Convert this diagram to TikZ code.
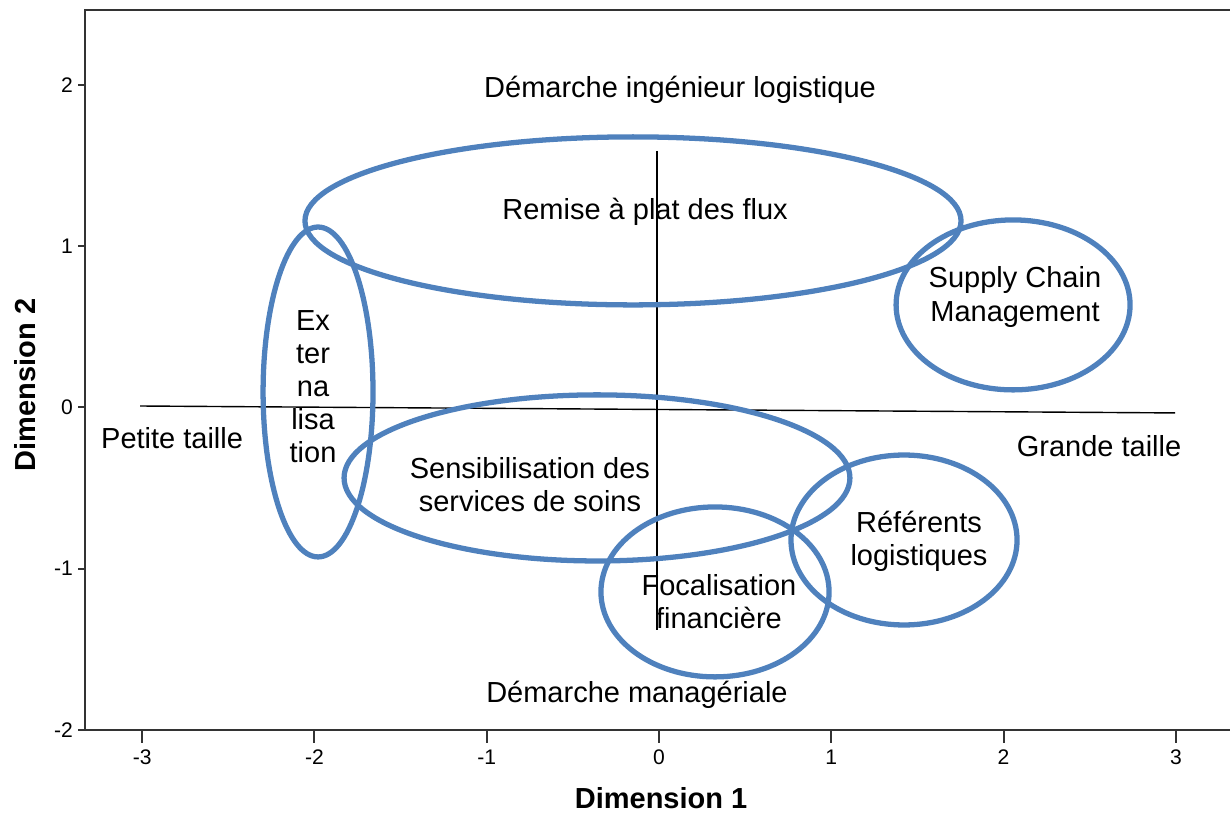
\documentclass[tikz,border=0pt]{standalone}
\usepackage{fontspec}
\setmainfont{Liberation Sans}
\usetikzlibrary{positioning}
\definecolor{zoneblue}{RGB}{79,129,189}
\tikzset{%
	zone/.style    = {draw=zoneblue, line width=3pt},
	lbl/.style     = {font=\fontsize{16.5}{18.8}\selectfont, align=center, inner sep=0pt},
	ticklbl/.style = {font=\fontsize{12}{14}\selectfont, inner sep=0pt},
	axtitle/.style = {font=\bfseries\fontsize{16.5}{19}\selectfont, inner sep=0pt},
	axframe/.style = {line width=1.1pt, black!80},
	cross/.style   = {line width=0.8pt, black},
}
\begin{document}
\begin{tikzpicture}[x=3.446cm,y=3.225cm]
	\useasboundingbox (-3.825,-2.521) rectangle (3.314,2.527);
	% frame and ticks
	\draw[axframe] (3.314,2.465) -- (-3.331,2.465) -- (-3.331,-2) -- (3.314,-2);
	\foreach \k in {-2,...,2} {
		\draw[axframe] (-3.331,\k) -- (-3.372,\k);
		\node[ticklbl, anchor=east] (ylab\k) at (-3.40,\k) {\k};
	}
	\foreach \k in {-3,...,3} {
		\draw[axframe] (\k,-2) -- (\k,-2.08);
		\node[ticklbl, anchor=north] (xlab\k) at (\k,-2.12) {\k};
	}
	\node[axtitle] (dimx) at (0.012,-2.425) {Dimension 1};
	\node[axtitle, rotate=90] (dimy) at (-3.680,0.140) {Dimension 2};
	% the two axes of the map
	\draw[cross] (-3.012,0.009) -- (2.995,-0.034);
	\draw[cross] (-0.012,1.591) -- (-0.012,-1.380);
	% groups
	\draw[zone] (-0.151,1.157) ellipse [x radius=1.904, y radius=0.521];
	\draw[zone] (-1.979,0.096) ellipse [x radius=0.319, y radius=1.023];
	\draw[zone] (2.055,0.636) ellipse [x radius=0.679, y radius=0.527];
	\draw[zone] (-0.360,-0.437) ellipse [x radius=1.468, y radius=0.515];
	\draw[zone] (0.325,-1.144) ellipse [x radius=0.662, y radius=0.527];
	\draw[zone] (1.422,-0.822) ellipse [x radius=0.656, y radius=0.527];
	% labels
	\node[lbl] (ingenieur) at (0.122,1.969) {Démarche ingénieur logistique};
	\node[lbl] (flux) at (-0.081,1.212) {Remise à plat des flux};
	\node[lbl] (scm) at (2.066,0.685) {Supply Chain\\Management};
	\node[lbl] (extern) at (-2.008,0.127) {Ex\\ter\\na\\lisa\\tion};
	\node[lbl] (petite) at (-2.826,-0.189) {Petite taille};
	\node[lbl] (grande) at (2.554,-0.239) {Grande taille};
	\node[lbl] (soins) at (-0.749,-0.481) {Sensibilisation des\\services de soins};
	\node[lbl] (referents) at (1.509,-0.828) {Référents\\logistiques};
	\node[lbl] (finance) at (0.348,-1.206) {Focalisation\\financière};
	\node[lbl] (manager) at (-0.128,-1.783) {Démarche managériale};
\end{tikzpicture}
\end{document}
